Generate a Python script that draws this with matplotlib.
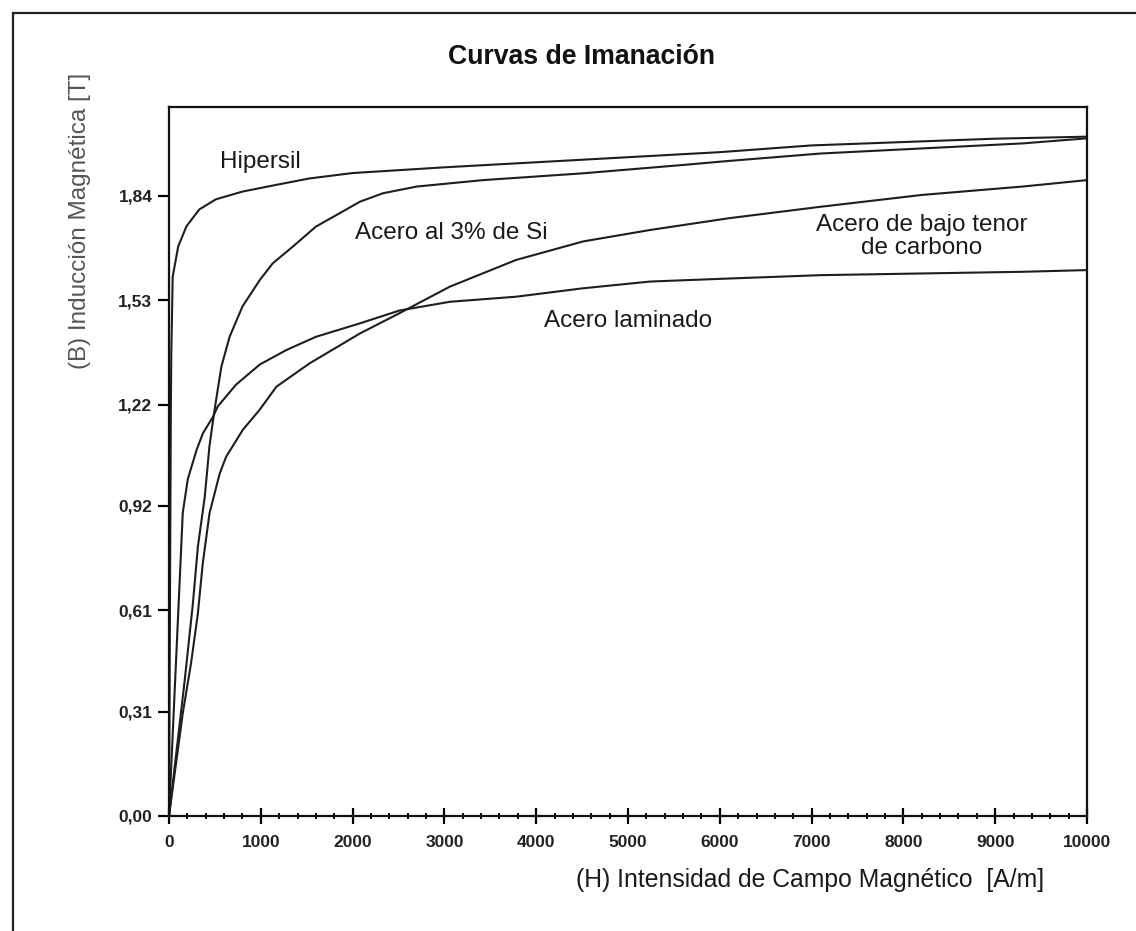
import matplotlib
matplotlib.use("Agg")
import matplotlib.pyplot as plt
from matplotlib.patches import Rectangle
from matplotlib.ticker import MultipleLocator

plt.rcParams['font.family'] = ['Liberation Sans', 'DejaVu Sans']

# ---- data (H in A/m, B in T) ----
hipersil_H = [0, 10, 20, 25, 40, 100, 190, 330, 510, 800, 1170, 1530, 2000, 3000,
              4000, 5000, 6000, 7000, 8000, 9000, 10000]
hipersil_B = [0, 0.60, 1.20, 1.37, 1.60, 1.69, 1.75, 1.80, 1.83, 1.853, 1.873, 1.892,
              1.908, 1.925, 1.94, 1.955, 1.97, 1.99, 2.00, 2.01, 2.016]

si3_H = [0, 170, 260, 315, 390, 440, 496, 570, 660, 800, 990, 1130, 1350, 1600,
         1860, 2080, 2330, 2700, 3420, 4500, 5600, 6100, 7100, 8200, 9300, 10000]
si3_B = [0, 0.40, 0.63, 0.80, 0.948, 1.096, 1.205, 1.333, 1.422, 1.512, 1.591, 1.64,
         1.69, 1.749, 1.789, 1.823, 1.848, 1.868, 1.887, 1.907, 1.932, 1.944, 1.966,
         1.981, 1.996, 2.011]

bajo_H = [0, 150, 240, 314, 368, 441, 552, 622, 804, 986, 1170, 1530, 2080, 2510,
          3060, 3780, 4510, 5240, 6100, 7100, 8200, 9300, 10000]
bajo_B = [0, 0.305, 0.453, 0.60, 0.75, 0.898, 1.016, 1.066, 1.146, 1.205, 1.274,
          1.343, 1.432, 1.492, 1.571, 1.65, 1.705, 1.739, 1.774, 1.808, 1.843, 1.868,
          1.887]

lamin_H = [0, 75, 150, 205, 300, 370, 480, 530, 730, 990, 1280, 1600, 2080, 2510,
           3060, 3780, 4510, 5240, 6100, 7100, 8200, 9300, 10000]
lamin_B = [0, 0.45, 0.90, 1.0, 1.086, 1.136, 1.185, 1.215, 1.28, 1.34, 1.383, 1.422,
           1.462, 1.50, 1.526, 1.541, 1.566, 1.586, 1.595, 1.605, 1.61, 1.615, 1.62]

x_ticks = [0, 1000, 2000, 3000, 4000, 5000, 6000, 7000, 8000, 9000, 10000]
y_ticks = [0.00, 0.31, 0.61, 0.92, 1.22, 1.53, 1.84]
y_tick_labels = ["0,00", "0,31", "0,61", "0,92", "1,22", "1,53", "1,84"]

title = "Curvas de Imanación"
xlabel = "(H) Intensidad de Campo Magnético  [A/m]"
ylabel = "(B) Inducción Magnética [T]"

# ---- figure ----
fig = plt.figure(figsize=(11.36, 9.31), dpi=100)
fig.patch.set_facecolor('white')

# outer frame (extends beyond right/bottom edges)
fig.patches.append(Rectangle((13/1136, -0.05), 1.2, 1 - 13/931 + 0.05,
                             transform=fig.transFigure, fill=False,
                             edgecolor='#222222', linewidth=1.6))

ax = fig.add_axes([169/1136, 1 - 816/931, (1087-169)/1136, (816-107)/931])

lc = '#1e1e1e'
lw = 1.5
for H, B in [(hipersil_H, hipersil_B), (si3_H, si3_B), (bajo_H, bajo_B), (lamin_H, lamin_B)]:
    ax.plot(H, B, color=lc, linewidth=lw, solid_joinstyle='round')

ax.set_xlim(0, 10000)
ax.set_ylim(0, 2.104)

ax.set_xticks(x_ticks)
ax.set_xticklabels([str(v) for v in x_ticks], fontsize=12.5, fontweight='bold', color='#222222')
ax.xaxis.set_minor_locator(MultipleLocator(200))
ax.tick_params(axis='x', which='major', direction='inout', length=11, width=1.6, pad=8)
ax.tick_params(axis='x', which='minor', direction='inout', length=5, width=1.4)

ax.set_yticks(y_ticks)
ax.set_yticklabels(y_tick_labels, fontsize=12.5, fontweight='bold', color='#222222')
ax.tick_params(axis='y', which='major', direction='out', length=8, width=1.6, pad=4)

for s in ax.spines.values():
    s.set_linewidth(1.6)
    s.set_color('#111111')

# titles and labels
fig.text(582/1136, 1 - 57/931, title, ha='center', va='center',
         fontsize=19.2, fontweight='bold', color='#111111')
fig.text(810/1136, 1 - 880/931, xlabel, ha='center', va='center',
         fontsize=17.8, color='#1a1a1a')
fig.text(80/1136, 1 - 221/931, ylabel, ha='center', va='center', rotation=90,
         fontsize=17.5, color='#555555')

# curve annotations
ax.text(1000, 1.94, "Hipersil", ha='center', va='center', fontsize=17.5, color='#1a1a1a')
ax.text(3070, 1.73, "Acero al 3% de Si", ha='center', va='center', fontsize=17.5, color='#1a1a1a')
ax.text(8200, 1.72, "Acero de bajo tenor\nde carbono", ha='center', va='center',
        fontsize=17.5, color='#1a1a1a', linespacing=1.05)
ax.text(5000, 1.47, "Acero laminado", ha='center', va='center', fontsize=17.5, color='#1a1a1a')

fig.savefig("out.png", dpi=100, facecolor='white')
